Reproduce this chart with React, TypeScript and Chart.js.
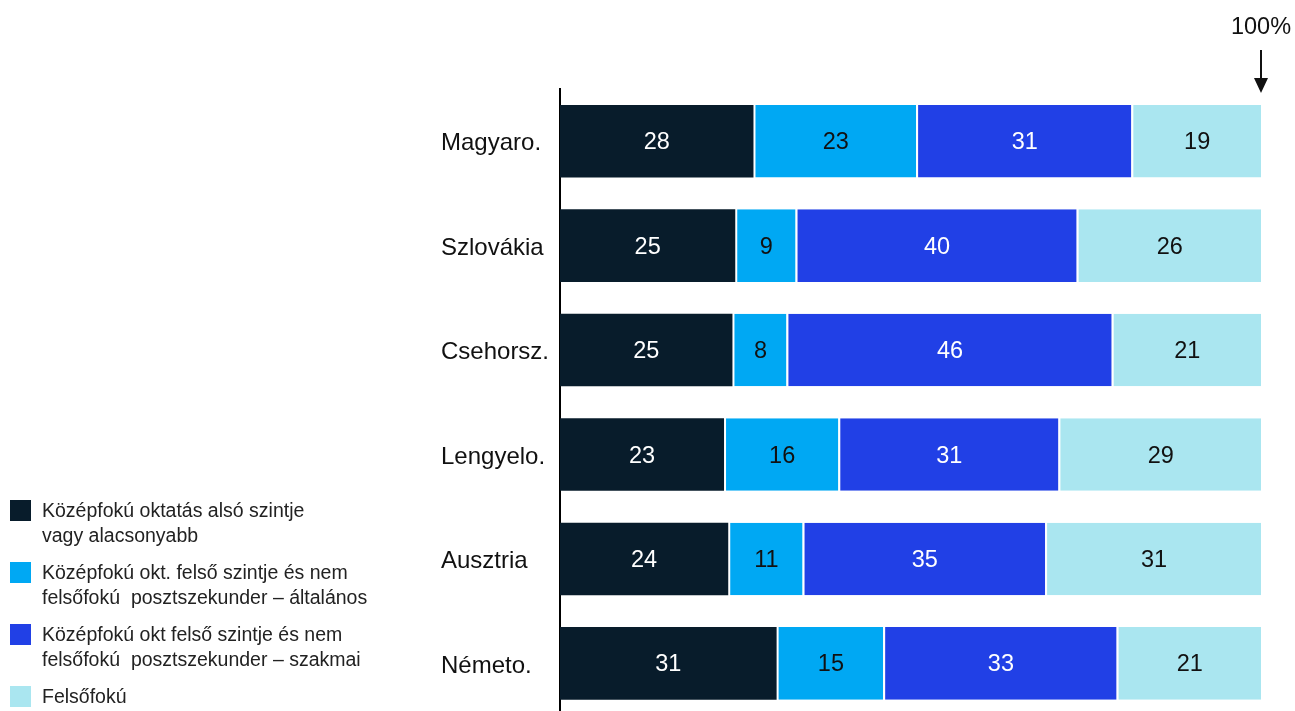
import React, { useEffect, useRef } from "react";
import { Chart, registerables } from "chart.js";

Chart.register(...registerables);

const categories = ["Magyaro.", "Szlovákia", "Csehorsz.", "Lengyelo.", "Ausztria", "Németo."];
const seriesNames = [
  "Középfokú oktatás alsó szintje\nvagy alacsonyabb",
  "Középfokú okt. felső szintje és nem\nfelsőfokú  posztszekunder – általános",
  "Középfokú okt felső szintje és nem\nfelsőfokú  posztszekunder – szakmai",
  "Felsőfokú",
];
const lowerSecondary = [27.6, 25.0, 24.6, 23.4, 24.0, 30.9];
const upperGeneral = [23.2, 8.6, 7.7, 16.3, 10.6, 15.2];
const upperVocational = [30.7, 40.1, 46.4, 31.4, 34.6, 33.3];
const tertiary = [18.5, 26.3, 21.3, 28.9, 30.8, 20.6];
const seriesColors = ["#081C2B", "#00A8F3", "#2140E6", "#AAE6F0"];
const labelColors = ["#FFFFFF", "#111111", "#FFFFFF", "#111111"];
const axisMax = 100;
const markerLabel = "100%";

const FONT = "'Liberation Sans', Arial, sans-serif";

const valueLabels = {
  id: "valueLabels",
  afterDatasetsDraw(chart: any) {
    const ctx = chart.ctx;
    ctx.save();
    ctx.font = `23.5px ${FONT}`;
    ctx.textAlign = "center";
    ctx.textBaseline = "middle";
    chart.data.datasets.forEach((ds: any, di: number) => {
      const meta = chart.getDatasetMeta(di);
      meta.data.forEach((el: any, i: number) => {
        const { x, y, base } = el.getProps(["x", "y", "base"], true);
        const cx = (x + base) / 2 + (di > 0 ? 1 : 0);
        ctx.fillStyle = labelColors[di];
        ctx.fillText(String(Math.round(ds.data[i])), cx, y + 1.5);
      });
    });
    ctx.restore();
  },
};

const hundredMarker = {
  id: "hundredMarker",
  afterDraw(chart: any) {
    const ctx = chart.ctx;
    const x = chart.scales.x.getPixelForValue(axisMax);
    ctx.save();
    ctx.fillStyle = "#111";
    ctx.strokeStyle = "#111";
    ctx.font = `23.5px ${FONT}`;
    ctx.textAlign = "center";
    ctx.textBaseline = "middle";
    ctx.fillText(markerLabel, x, 28);
    ctx.lineWidth = 2;
    ctx.beginPath();
    ctx.moveTo(x, 50);
    ctx.lineTo(x, 80);
    ctx.stroke();
    ctx.beginPath();
    ctx.moveTo(x - 7, 78);
    ctx.lineTo(x + 7, 78);
    ctx.lineTo(x, 93);
    ctx.closePath();
    ctx.fill();
    ctx.restore();
  },
};

export default function App() {
  const ref = useRef<HTMLCanvasElement>(null);

  useEffect(() => {
    if (!ref.current) return;
    const series = [lowerSecondary, upperGeneral, upperVocational, tertiary];
    const chart = new Chart(ref.current, {
      type: "bar",
      data: {
        labels: categories,
        datasets: series.map((data, i) => ({
          label: seriesNames[i],
          data,
          backgroundColor: seriesColors[i],
          borderColor: "#FFFFFF",
          borderWidth: i === 0 ? 0 : { left: 2, right: 0, top: 0, bottom: 0 },
          borderSkipped: false,
          barPercentage: 0.695,
          categoryPercentage: 1,
        })),
      },
      options: {
        indexAxis: "y",
        responsive: false,
        animation: false,
        layout: { padding: { left: 441, right: 34, top: 89, bottom: 11 } },
        plugins: {
          legend: { display: false },
          tooltip: { enabled: false },
        },
        scales: {
          x: { stacked: true, min: 0, max: axisMax, display: false },
          y: {
            stacked: true,
            grid: { display: false },
            border: { display: true, color: "#000", width: 2 },
            ticks: {
              crossAlign: "far",
              padding: 0,
              labelOffset: 2.5,
              color: "#111",
              font: { family: FONT, size: 24 },
            },
            afterFit(scale: any) {
              scale.width = 119;
            },
          },
        },
      },
      plugins: [valueLabels, hundredMarker],
    } as any);
    return () => chart.destroy();
  }, []);

  return (
    <div
      style={{
        position: "fixed",
        left: 0,
        top: 0,
        width: 1295,
        height: 711,
        overflow: "hidden",
        background: "#fff",
      }}
    >
      <canvas ref={ref} width={1295} height={730} style={{ display: "block" }} />
      <div
        style={{
          position: "absolute",
          left: 10,
          top: 498,
          display: "flex",
          flexDirection: "column",
          gap: 12,
          fontFamily: FONT,
          fontSize: 19.5,
          lineHeight: "25px",
          color: "#222",
        }}
      >
        {seriesNames.map((name, i) => (
          <div key={i} style={{ display: "flex", alignItems: "flex-start" }}>
            <div
              style={{
                width: 21,
                height: 21,
                marginTop: 2,
                background: seriesColors[i],
                flexShrink: 0,
              }}
            />
            <div style={{ marginLeft: 11, whiteSpace: "pre" }}>{name}</div>
          </div>
        ))}
      </div>
    </div>
  );
}
